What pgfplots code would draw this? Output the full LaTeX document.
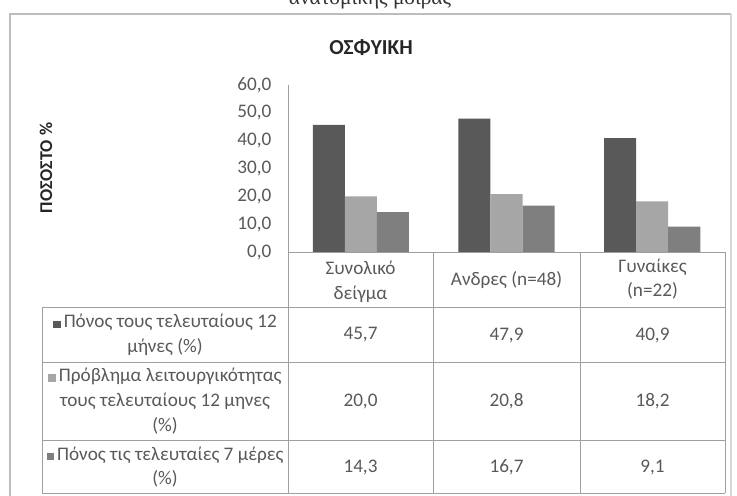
\documentclass[border=0pt]{standalone}
\usepackage{fontspec}
\setmainfont{Carlito}
\newfontfamily\docfont{Liberation Serif}
\usepackage{pgfplots}
\usepackage{pgfplotstable}
\pgfplotsset{compat=1.18}

\definecolor{barDark}{HTML}{595959}
\definecolor{barLight}{HTML}{A6A6A6}
\definecolor{barMid}{HTML}{7F7F7F}
\definecolor{txt}{HTML}{595959}
\definecolor{rule}{HTML}{A0A0A0}
\definecolor{frame}{HTML}{BDBDBD}

% Lumbar pain prevalence (%) per group: 0 = whole sample, 1 = men, 2 = women
\pgfplotstableread{
x y
0 45.7
1 47.9
2 40.9
}\painYear
\pgfplotstableread{
x y
0 20.0
1 20.8
2 18.2
}\funcYear
\pgfplotstableread{
x y
0 14.3
1 16.7
2 9.1
}\painWeek

% one value cell of the data table, printed from the same tables as the bars
\newcommand\cell[2]{\pgfplotstablegetelem{#2}{y}\of#1%
  \pgfmathprintnumber[fixed,fixed zerofill,precision=1,use comma,assume math mode=true]{\pgfplotsretval}}
\newcommand\mk[1]{\textcolor{#1}{\rule{5.5pt}{5.5pt}}\,}

\begin{document}
\begin{tikzpicture}
% page layout in pixel units: 1px = 0.75pt, y grows downwards
\begin{scope}[x=0.75pt,y=-0.75pt]
\useasboundingbox (0,0) rectangle (737,495);

% running heading of the page above the chart frame
\begin{scope}
  \clip (0,0) rectangle (737,12);
  \node[font=\docfont\fontsize{16}{18}\selectfont, anchor=base, text=black!80] at (370,5) {ανατομικής μοίρας};
\end{scope}

% chart frame
\draw[draw=frame, line width=1.6pt] (10,14) -- (10,500);
\draw[draw=frame, line width=1.6pt] (9,14) -- (731,14);
\draw[draw=frame!60, line width=0.8pt] (731,14) -- (731,500);

\node[font=\bfseries\fontsize{16}{19}\selectfont, text=black!85] at (371,48) {ΟΣΦΥΙΚΗ};
\node[rotate=90, font=\bfseries\fontsize{13.5}{15}\selectfont, text=black!85] at (46,168) {ΠΟΣΟΣΤΟ \%};
\end{scope}

\begin{axis}[
  at={(216pt,-189pt)}, anchor=south west,
  scale only axis, width=327.75pt, height=125.25pt,
  xmin=-0.5, xmax=2.5, ymin=0, ymax=60,
  ytick={0,10,...,60}, xtick=\empty,
  axis x line=none, axis y line=left,
  y axis line style={draw=rule, -},
  major tick length=0pt,
  y tick label style={font=\fontsize{14.4}{16}\selectfont, text=txt, xshift=-9pt,
    /pgf/number format/.cd, fixed, fixed zerofill, precision=1, use comma, assume math mode=true},
  ybar, bar width=0.22,
  clip=false,
]
\addplot[fill=barDark, draw=none, bar shift=-0.22] table {\painYear};
\addplot[fill=barLight, draw=none, bar shift=0] table {\funcYear};
\addplot[fill=barMid, draw=none, bar shift=0.22] table {\painWeek};
\end{axis}

\begin{scope}[x=0.75pt,y=-0.75pt]
% data table under the plot
\begin{scope}[draw=rule, line width=0.6pt]
  \draw (288,252) -- (725,252);
  \foreach \yy in {307,362,440,493} \draw (42,\yy) -- (725,\yy);
  \draw (42,307) -- (42,493);
  \foreach \xx in {288,433,580,725} \draw (\xx,252) -- (\xx,493);
\end{scope}

\begin{scope}[every node/.style={font=\fontsize{14.4}{18.5}\selectfont, text=txt, align=center}]
  \node at (360.5,282) {Συνολικό\\δείγμα};
  \node at (506.5,280) {Ανδρες (n=48)};
  \node at (652.5,279) {Γυναίκες\\(n=22)};

  \node at (165,335) {\mk{barDark}Πόνος τους τελευταίους 12\\μήνες (\%)};
  \node at (165,401) {\mk{barLight}Πρόβλημα λειτουργικότητας\\τους τελευταίους 12 μηνες\\(\%)};
  \node at (165,467) {\mk{barMid}Πόνος τις τελευταίες 7 μέρες\\(\%)};

  \node at (360.5,335) {\cell{\painYear}{0}};
  \node at (506.5,335) {\cell{\painYear}{1}};
  \node at (652.5,335) {\cell{\painYear}{2}};
  \node at (360.5,401) {\cell{\funcYear}{0}};
  \node at (506.5,401) {\cell{\funcYear}{1}};
  \node at (652.5,401) {\cell{\funcYear}{2}};
  \node at (360.5,467) {\cell{\painWeek}{0}};
  \node at (506.5,467) {\cell{\painWeek}{1}};
  \node at (652.5,467) {\cell{\painWeek}{2}};
\end{scope}
\end{scope}
\end{tikzpicture}
\end{document}
